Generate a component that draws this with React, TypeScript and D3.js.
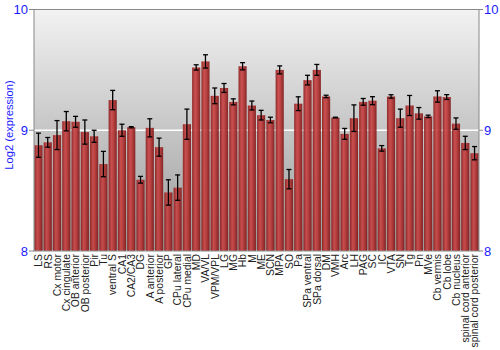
import React from "react";
import * as d3 from "d3";

const categories = ["LS","RS","Cx motor","Cx cingulate","OB anterior","OB posterior","Pir","Tu","ventral S","CA1","CA2/CA3","DG","A anterior","A posterior","GP","CPu lateral","CPu medial","MD","VA/VL","VPM/VPL","LG","MG","Hb","M","ME","SCN","MPA","SO","Pa","SPa ventral","SPa dorsal","DM","VMH","Arc","LH","PAG","SC","IC","VTA","SN","Tg","Pn","MVe","Cb vermis","Cb lobe","Cb nucleus","spinal cord anterior","spinal cord posterior"];
const values = [8.876,8.90,8.96,9.075,9.07,8.985,8.95,8.72,9.25,9.0,9.025,8.59,9.02,8.86,8.485,8.525,9.05,9.52,9.57,9.285,9.35,9.235,9.53,9.205,9.125,9.085,9.50,8.595,9.22,9.415,9.50,9.28,9.105,8.97,9.10,9.235,9.245,8.85,9.28,9.10,9.205,9.14,9.115,9.28,9.275,9.055,8.895,8.81];
const errors = [0.1,0.04,0.12,0.08,0.045,0.1,0.05,0.105,0.08,0.05,0.005,0.028,0.075,0.075,0.105,0.105,0.125,0.022,0.055,0.065,0.037,0.025,0.03,0.037,0.04,0.023,0.033,0.08,0.057,0.04,0.045,0.01,0.003,0.045,0.11,0.028,0.033,0.023,0.014,0.075,0.083,0.048,0.01,0.047,0.02,0.047,0.055,0.055];
const yTicks = [8, 9, 10];

const W = 500, H = 350;
const M = { left: 34, right: 21, top: 9.5, bottom: 99 };

export default function App() {
  const x = d3.scaleBand<string>().domain(categories).range([M.left, W - M.right]).paddingInner(0.12).paddingOuter(0.04);
  const y = d3.scaleLinear().domain([8, 10]).range([H - M.bottom, M.top]);
  const bw = x.bandwidth();
  const blue = "#1a1aff";
  return (
    <div style={{ position: "absolute", left: 0, top: 0 }}>
      <svg width={W} height={H} style={{ display: "block" }} fontFamily="'Liberation Sans', Arial, sans-serif">
        <defs>
          <linearGradient id="bg" x1="0" y1="0" x2="0" y2="1">
            <stop offset="0" stopColor="#f2f2f2" />
            <stop offset="1" stopColor="#999999" />
          </linearGradient>
          <linearGradient id="bar" x1="0" y1="0" x2="1" y2="0">
            <stop offset="0" stopColor="#8a1c1c" />
            <stop offset="0.35" stopColor="#c94646" />
            <stop offset="0.6" stopColor="#b83636" />
            <stop offset="1" stopColor="#7e1818" />
          </linearGradient>
        </defs>
        <rect x={M.left} y={M.top} width={W - M.left - M.right} height={H - M.top - M.bottom} fill="url(#bg)" />
        {yTicks.map(t => (
          <line key={"g" + t} x1={M.left} x2={W - M.right} y1={y(t)} y2={y(t)} stroke="#ffffff" strokeWidth={1.5} />
        ))}
        {categories.map((c, i) => (
          <rect key={c} x={x(c)} y={y(values[i])} width={bw} height={y(8) - y(values[i])} fill="url(#bar)" opacity={0.92} />
        ))}
        {categories.map((c, i) => {
          const cx = (x(c) as number) + bw / 2;
          const y1 = y(values[i] + errors[i]);
          const y2 = y(values[i] - errors[i]);
          return (
            <g key={"e" + c}>
              <line x1={cx} x2={cx} y1={y1} y2={y2} stroke="#000" strokeWidth={1.3} />
              <line x1={cx - 2.5} x2={cx + 2.5} y1={y1} y2={y1} stroke="#000" strokeWidth={1.3} />
              <line x1={cx - 2.5} x2={cx + 2.5} y1={y2} y2={y2} stroke="#000" strokeWidth={1.3} />
            </g>
          );
        })}
        <rect x={M.left} y={M.top} width={W - M.left - M.right} height={H - M.top - M.bottom} fill="none" stroke="#888" strokeWidth={1} />
        {yTicks.map(t => (
          <g key={"t" + t}>
            <line x1={M.left - 5} x2={M.left} y1={y(t)} y2={y(t)} stroke="#888" />
            <line x1={W - M.right} x2={W - M.right + 4} y1={y(t)} y2={y(t)} stroke="#888" />
            <text x={M.left - 6} y={y(t)} dy="0.36em" textAnchor="end" fontSize={13} fill={blue}>{t}</text>
            <text x={W - M.right + 5} y={y(t)} dy="0.36em" textAnchor="start" fontSize={13} fill={blue}>{t}</text>
          </g>
        ))}
        <text transform={`translate(13,125) rotate(-90)`} textAnchor="middle" fontSize={11.2} fill={blue}>Log2 (expression)</text>
        {categories.map(c => {
          const cx = (x(c) as number) + bw / 2;
          return (
            <text key={"l" + c} transform={`translate(${cx + 3.8},${H - M.bottom + 3}) rotate(-90)`} textAnchor="end" fontSize={10.4} fill="#222">{c}</text>
          );
        })}
      </svg>
    </div>
  );
}
